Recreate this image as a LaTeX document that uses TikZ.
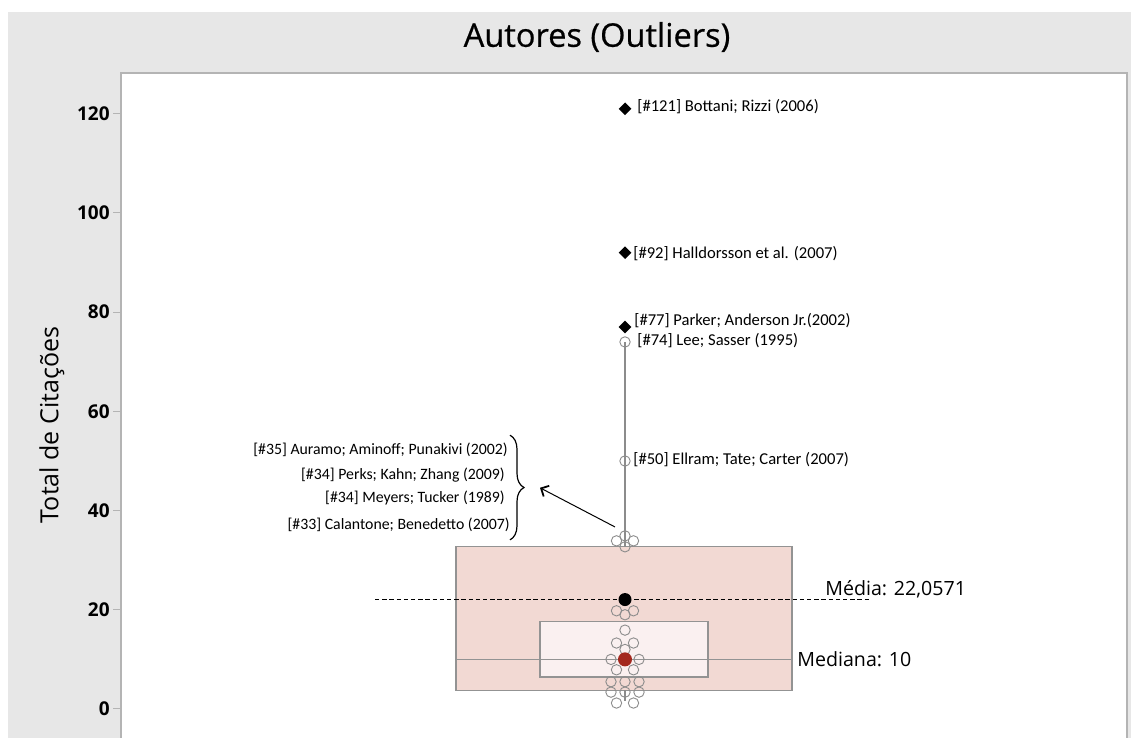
\documentclass[tikz,border=0pt]{standalone}
\usepackage{fontspec}
\setmainfont{Carlito}
\newfontfamily\uifont{Open Sans}
\newfontfamily\titlefont[FakeBold=0.6]{Open Sans}
\usetikzlibrary{shapes.geometric,arrows.meta,decorations.pathreplacing,positioning}
\definecolor{panelgray}{HTML}{E7E7E7}
\definecolor{framegray}{HTML}{B4B4B4}
\definecolor{pointgray}{HTML}{8C8C8C}
\definecolor{outerfill}{HTML}{F2D9D3}
\definecolor{innerfill}{HTML}{FAF0F0}
\definecolor{boxline}{HTML}{939393}
\definecolor{mediandot}{HTML}{A3281E}

\begin{document}
\begin{tikzpicture}[
	x=0.5pt, y=0.5pt,
	outlierpoint/.style={ diamond, fill, inner sep=0pt, minimum size=6.5pt },
	datapoint/.style={ circle, draw=pointgray, line width=0.45pt, inner sep=0pt, minimum size=5.2pt },
	meanpoint/.style={ circle, fill=black, inner sep=0pt, minimum size=6.5pt },
	medianpoint/.style={ circle, fill=mediandot, inner sep=0pt, minimum size=7pt },
	pointlabel/.style={ font=\fontsize{8.3}{9}\selectfont, inner sep=0pt, anchor=west },
	authorlabel/.style={ font=\fontsize{7.9}{9}\selectfont, inner sep=0pt, anchor=east },
	statlabel/.style={ font=\uifont\fontsize{9.8}{12}\selectfont, inner sep=0pt, anchor=west },
	ticklabel/.style={ font=\uifont\bfseries\fontsize{9.5}{11}\selectfont, inner sep=0pt, anchor=east },
	tickmark/.style={ framegray, line width=0.5pt }
]
	\useasboundingbox (0,0) rectangle (1131,738);
	\fill[white] (0,0) rectangle (1131,738);
	\fill[panelgray] (8,0) rectangle (1131,726);
	\fill[white] (121,0) rectangle (1127,665);
	\draw[framegray, line width=0.6pt] (121,0) -- (121,665) -- (1127,665) -- (1127,0);

	\node[font=\titlefont\fontsize{16.3}{19}\selectfont] (title) at (597,701) {Autores (Outliers)};
	\node[font=\uifont\fontsize{12.5}{14}\selectfont, rotate=90] (ylabel) at (52,313) {Total de Citações};

	\begin{scope}[shift={(0,29)}, y=2.48pt]
	% axis
	\foreach \v in {0,20,...,120} {
		\draw[tickmark] (113,\v) -- (121,\v);
		\node[ticklabel] (tick\v) at (110,\v) {\v};
	}

	% boxes
	\draw[boxline, fill=outerfill, line width=0.6pt] (456,3.8) rectangle (792,32.7);
	\draw[boxline, fill=innerfill, line width=0.6pt] (540,6.45) rectangle (708,17.7);
	\draw[boxline, line width=0.6pt] (456,10) -- (792,10);

	% whiskers
	\draw[pointgray, line width=0.6pt] (625,32.7) -- (625,74);
	\draw[pointgray, line width=0.6pt] (625,3.8) -- (625,1.6);

	% points
	\node[datapoint] (p74) at (625,74) {};
	\node[datapoint] (p50) at (625,50) {};
	\foreach \dx/\v [count=\i] in {0/34.9, -8.5/33.9, 8.5/33.9, 0/32.7,
		-8.5/19.8, 8.5/19.8, 0/19, 0/15.9, -8.5/13.3, 8.5/13.3, 0/12,
		-14/10, 14/10, -8.5/7.9, 8.5/7.9, -14/5.5, 0/5.5, 14/5.5,
		-14/3.4, 0/3.4, 14/3.4, -8.5/1.2, 8.5/1.2} {
		\node[datapoint] (c\i) at ({625+\dx},\v) {};
	}
	\node[outlierpoint] (p121) at (625,121) {};
	\node[outlierpoint] (p92) at (625,92) {};
	\node[outlierpoint] (p77) at (625,77) {};

	% mean and median
	\draw[line width=0.7pt, dash pattern=on 2.2pt off 1.4pt] (375,22.06) -- (870,22.06);
	\node[meanpoint] (mean) at (625,22.06) {};
	\node[medianpoint] (median) at (625,10) {};
	\node[statlabel, anchor=south west] (meanlabel) at (825,22.2) {Média: 22,0571};
	\node[statlabel] (medianlabel) at (797,10) {Mediana: 10};

	% outlier labels
	\node[pointlabel] (l121) at (637,121.4) {[\#121] Bottani; Rizzi (2006)};
	\node[pointlabel] (l92) at (633,91.9) {[\#92] Halldorsson et al. (2007)};
	\node[pointlabel] (l77) at (634,78.4) {[\#77] Parker; Anderson Jr.(2002)};
	\node[pointlabel] (l74) at (637,74.2) {[\#74] Lee; Sasser (1995)};
	\node[pointlabel] (l50) at (633,50.2) {[\#50] Ellram; Tate; Carter (2007)};

	% grouped labels
	\node[authorlabel] (a35) at (508,52.2) {[\#35] Auramo; Aminoff; Punakivi (2002)};
	\node[authorlabel] (a34p) at (505,47.2) {[\#34] Perks; Kahn; Zhang (2009)};
	\node[authorlabel] (a34m) at (505,42.5) {[\#34] Meyers; Tucker (1989)};
	\node[authorlabel] (a33) at (510,37.1) {[\#33] Calantone; Benedetto (2007)};
	\coordinate (bracetop) at (510,55.2);
	\coordinate (bracebot) at (510,34.1);
	\draw[decorate, decoration={brace, amplitude=7pt, aspect=0.5}, line width=0.6pt] (bracetop) -- (bracebot);
	\coordinate (arrfrom) at (615,36.7);
	\coordinate (arrto) at (540,44.6);
	\draw[-{Straight Barb[length=3pt, width=6pt, line width=0.9pt]}, line width=0.5pt] (arrfrom) -- (arrto);
	\end{scope}

\end{tikzpicture}
\end{document}
